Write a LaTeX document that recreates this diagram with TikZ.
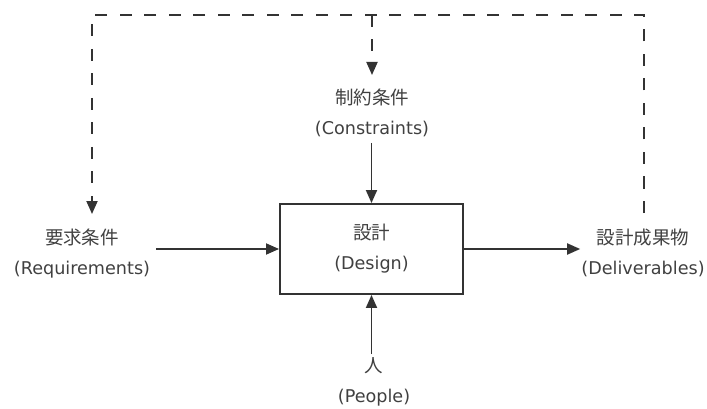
\documentclass[tikz,border=0pt]{standalone}
\usepackage{fontspec}
\setmainfont{DejaVu Sans}
\newfontfamily\jp{Noto Sans CJK JP}
\usetikzlibrary{arrows.meta}
\definecolor{linec}{HTML}{333333}
\definecolor{textc}{HTML}{404040}
\newcommand{\jpt}[1]{{\jp\fontsize{18.5}{30}\selectfont #1}}
\begin{document}
\begin{tikzpicture}[x=1pt,y=-1pt,
  tip/.style={-{Triangle[length=13pt,width=11pt]}},
  conn/.style={draw=linec, line width=1.8pt, tip},
  fb/.style={draw=linec, line width=1.9pt, dash pattern=on 12pt off 12.5pt},
  lbl/.style={align=center, inner sep=0pt, text=textc, font=\fontsize{17.6}{30}\selectfont},
  procbox/.style={draw=linec, line width=1.9pt, minimum width=183pt, minimum height=90pt,
    inner sep=0pt, align=center, text=textc, font=\fontsize{17.6}{30}\selectfont}]
\useasboundingbox (0,0) rectangle (707,409);
\node[procbox] (design) at (371.5,249) {\jpt{設計}\\(Design)};
\node[lbl] (req) at (82,254) {\jpt{要求条件}\\(Requirements)};
\node[lbl] (cons) at (372,113) {\jpt{制約条件}\\(Constraints)};
\node[lbl] (deliv) at (643,253) {\jpt{設計成果物}\\(Deliverables)};
\node[lbl] (people) at (374,382) {\jpt{人}\\(People)};
\coordinate (tl) at (92,15);
\coordinate (tr) at (644,15);
\coordinate (tm) at (372,15);
\coordinate (dr) at (644,213);
\coordinate (la) at (92,214);
\draw[conn] ([xshift=6pt]req.east |- design.west) -- (design.west);
\draw[conn] (design.east) -- ([xshift=-1pt]deliv.west |- design.east);
\draw[conn] (design.north |- 0,143) -- (design.north);
\draw[conn] (design.south |- 0,354) -- (design.south);
\draw[fb, tip] (dr) -- (tr) -- (tl) -- (la);
\draw[fb, tip] (tm) -- (tm |- 0,75);
\end{tikzpicture}
\end{document}
